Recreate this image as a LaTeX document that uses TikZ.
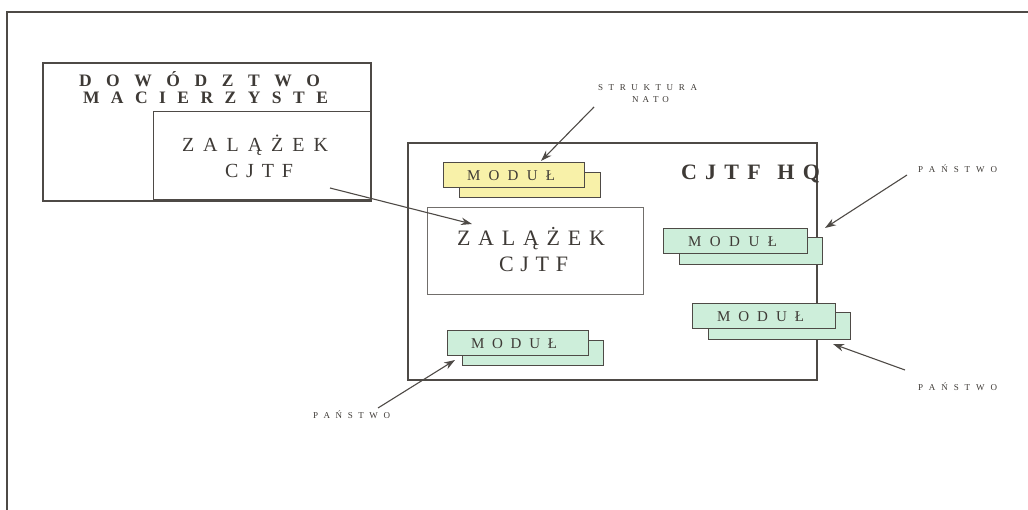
\documentclass[tikz,border=0pt]{standalone}
\usepackage{fontspec}
\setmainfont{Liberation Serif}
\usetikzlibrary{arrows.meta}
\definecolor{ink}{HTML}{3E3A36}
\definecolor{linec}{HTML}{4E4A46}
\definecolor{yel}{HTML}{F8F1A9}
\definecolor{grn}{HTML}{CDEEDA}
\def\spA#1{#1\spB}
\def\spB#1{\ifx\relax#1\else\hfill#1\expandafter\spB\fi}
\newcommand\spreadtext[2]{\hbox to #1{\spA#2\relax}}
\tikzset{
  txt/.style={inner sep=0pt, outer sep=0pt, anchor=base west, text=ink},
  frame/.style={draw=linec, line width=1.3pt},
  thinbox/.style={draw=linec!80, line width=0.8pt},
  modfront/.style={draw=linec, line width=0.8pt},
  ptr/.style={draw=linec, line width=1.1pt, -{Stealth[length=11pt,width=7.5pt]}},
}
\begin{document}
\begin{tikzpicture}[x=1pt,y=-1pt]
\useasboundingbox (0,0) rectangle (1028,510);
% outer frame (top and left only)
\draw[linec, line width=1.3pt] (1028,12) -- (7,12) -- (7,510);

% Dowodztwo macierzyste
\draw[frame] (43,63) rectangle (371,201);
\draw[frame, line width=1pt] (153,112) rectangle (370,200);
\node[txt, font=\fontsize{17.5}{18}\selectfont\bfseries] (dow) at (79,87) {\spreadtext{241pt}{D O W Ó D Z T W O}};
\node[txt, font=\fontsize{17.5}{18}\selectfont\bfseries] (mac) at (83,103.5) {\spreadtext{245pt}{M A C I E R Z Y S T E}};
\node[txt, font=\fontsize{20}{20}\selectfont] (zal1) at (182,152) {\spreadtext{146pt}{Z A L Ą Ż E K}};
\node[txt, font=\fontsize{20}{20}\selectfont] (cj1) at (225,178) {\spreadtext{68pt}{C J T F}};

% CJTF HQ
\draw[frame, line width=1.1pt] (408,143) rectangle (817,380);
\node[txt, font=\fontsize{22}{22}\selectfont\bfseries] (hq) at (681,180) {\hbox to 139pt{C\hfill J\hfill T\hfill F\hfill\hfill H\hfill Q}};

% central Zalazek
\draw[thinbox] (427,207) rectangle (643,294);
\node[txt, font=\fontsize{22}{22}\selectfont] (zal2) at (457,246) {\spreadtext{148pt}{Z A L Ą Ż E K}};
\node[txt, font=\fontsize{22}{22}\selectfont] (cj2) at (499,272) {\spreadtext{69pt}{C J T F}};

% yellow module
\draw[modfront, fill=yel] (459,172) rectangle (600,197);
\draw[modfront, fill=yel] (443,162) rectangle (584,187);
\node[txt, font=\fontsize{15}{15}\selectfont] (m0) at (467,181) {\spreadtext{88pt}{M O D U Ł}};

% green module 1
\draw[modfront, fill=grn] (679,237) rectangle (822,264);
\draw[modfront, fill=grn] (663,228) rectangle (807,253);
\node[txt, font=\fontsize{15}{15}\selectfont] (m1) at (688,247) {\spreadtext{89pt}{M O D U Ł}};

% green module 2
\draw[modfront, fill=grn] (708,312) rectangle (850,339);
\draw[modfront, fill=grn] (692,303) rectangle (835,328);
\node[txt, font=\fontsize{15}{15}\selectfont] (m2) at (717,322) {\spreadtext{87pt}{M O D U Ł}};

% green module 3
\draw[modfront, fill=grn] (462,340) rectangle (603,365);
\draw[modfront, fill=grn] (447,330) rectangle (588,355);
\node[txt, font=\fontsize{15}{15}\selectfont] (m3) at (471,349) {\spreadtext{86pt}{M O D U Ł}};

% labels
\node[txt, font=\fontsize{9}{9}\selectfont] (str) at (598,91) {\spreadtext{99pt}{S T R U K T U R A}};
\node[txt, font=\fontsize{9}{9}\selectfont] (nato) at (632,103) {\spreadtext{37pt}{N A T O}};
\node[txt, font=\fontsize{9}{9}\selectfont] (p1) at (918,173) {\spreadtext{79pt}{P A Ń S T W O}};
\node[txt, font=\fontsize{9}{9}\selectfont] (p2) at (918,391) {\spreadtext{79pt}{P A Ń S T W O}};
\node[txt, font=\fontsize{9}{9}\selectfont] (p3) at (313,418) {\spreadtext{77pt}{P A Ń S T W O}};

% arrows
\coordinate (a0s) at (594,107); \coordinate (a0e) at (541,161);
\coordinate (a1s) at (907,175); \coordinate (a1e) at (825,228);
\coordinate (a2s) at (905,370); \coordinate (a2e) at (833,344);
\coordinate (a3s) at (378,408); \coordinate (a3e) at (455,360);
\coordinate (a4s) at (330,188); \coordinate (a4e) at (472,224);
\draw[ptr] (a0s) -- (a0e);
\draw[ptr] (a1s) -- (a1e);
\draw[ptr] (a2s) -- (a2e);
\draw[ptr] (a3s) -- (a3e);
\draw[ptr] (a4s) -- (a4e);
\end{tikzpicture}
\end{document}
